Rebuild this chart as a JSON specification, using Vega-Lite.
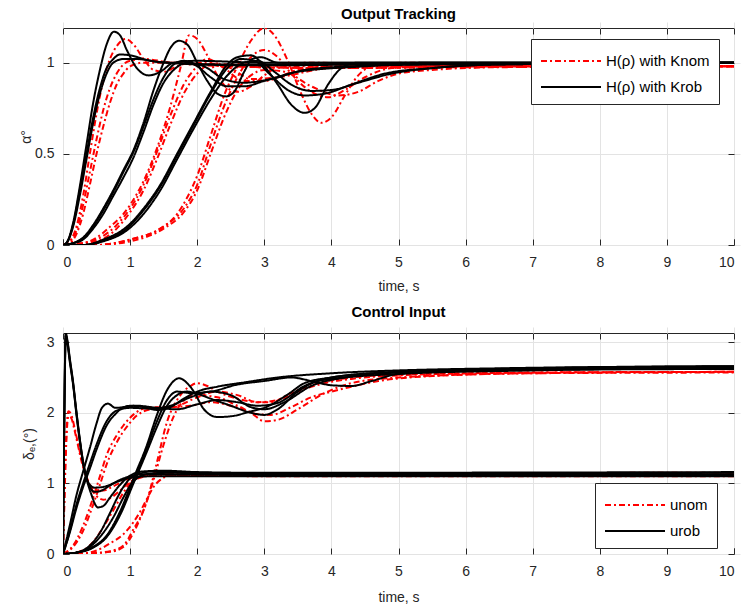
{
"$schema": "https://vega.github.io/schema/vega-lite/v6.json",
"background": "white",
"padding": {"left": 19, "top": 6, "right": 12, "bottom": 4},
"spacing": 10,
"config": {
 "font": "Liberation Sans, Arial, sans-serif",
 "view": {"stroke": "#262626", "strokeWidth": 1},
 "axis": {"domain": false, "grid": true, "gridColor": "#e3e3e3", "gridWidth": 1, "tickColor": "#262626", "tickSize": 6, "offset": -6, "tickWidth": 1, "labelColor": "#262626", "labelFontSize": 14, "titleColor": "#262626", "titleFontSize": 14, "titleFontWeight": "normal"},
 "axisX": {"labelPadding": 10},
 "axisY": {"labelPadding": 9},
 "title": {"fontSize": 15, "fontWeight": "bold", "color": "#000000", "frame": "group", "offset": 6},
 "legend": {"title": null, "symbolType": "M-1,0H4", "symbolSize": 576, "symbolStrokeWidth": 2, "labelFontSize": 15, "labelColor": "#000000", "labelOffset": 40, "strokeColor": "#262626", "fillColor": "white", "padding": 9, "rowPadding": 5, "orient": "none"}
},
"datasets": {
"top": [
{"c":"r1","k":"nom","t":0,"v":0},{"c":"r1","k":"nom","t":0.1,"v":0.02},{"c":"r1","k":"nom","t":0.2,"v":0.1},{"c":"r1","k":"nom","t":0.3,"v":0.27},{"c":"r1","k":"nom","t":0.4,"v":0.5},{"c":"r1","k":"nom","t":0.5,"v":0.72},{"c":"r1","k":"nom","t":0.6,"v":0.9},{"c":"r1","k":"nom","t":0.7,"v":1.02},{"c":"r1","k":"nom","t":0.8,"v":1.09},{"c":"r1","k":"nom","t":0.93,"v":1.13},{"c":"r1","k":"nom","t":1.05,"v":1.1},{"c":"r1","k":"nom","t":1.2,"v":1.02},{"c":"r1","k":"nom","t":1.35,"v":0.96},{"c":"r1","k":"nom","t":1.5,"v":0.95},{"c":"r1","k":"nom","t":1.7,"v":0.98},{"c":"r1","k":"nom","t":1.9,"v":1.0},{"c":"r1","k":"nom","t":2.5,"v":0.99},{"c":"r1","k":"nom","t":4,"v":0.98},{"c":"r1","k":"nom","t":10,"v":0.98},
{"c":"r2","k":"nom","t":0,"v":0},{"c":"r2","k":"nom","t":0.1,"v":0.02},{"c":"r2","k":"nom","t":0.2,"v":0.08},{"c":"r2","k":"nom","t":0.3,"v":0.22},{"c":"r2","k":"nom","t":0.4,"v":0.4},{"c":"r2","k":"nom","t":0.5,"v":0.58},{"c":"r2","k":"nom","t":0.6,"v":0.74},{"c":"r2","k":"nom","t":0.7,"v":0.86},{"c":"r2","k":"nom","t":0.8,"v":0.94},{"c":"r2","k":"nom","t":0.9,"v":0.99},{"c":"r2","k":"nom","t":1.0,"v":1.01},{"c":"r2","k":"nom","t":1.2,"v":1.02},{"c":"r2","k":"nom","t":1.6,"v":1.0},{"c":"r2","k":"nom","t":2.5,"v":0.98},{"c":"r2","k":"nom","t":4,"v":0.97},{"c":"r2","k":"nom","t":6,"v":0.98},{"c":"r2","k":"nom","t":10,"v":0.98},
{"c":"r3","k":"nom","t":0,"v":0},{"c":"r3","k":"nom","t":0.1,"v":0.01},{"c":"r3","k":"nom","t":0.2,"v":0.06},{"c":"r3","k":"nom","t":0.3,"v":0.17},{"c":"r3","k":"nom","t":0.4,"v":0.33},{"c":"r3","k":"nom","t":0.5,"v":0.5},{"c":"r3","k":"nom","t":0.6,"v":0.65},{"c":"r3","k":"nom","t":0.7,"v":0.78},{"c":"r3","k":"nom","t":0.8,"v":0.88},{"c":"r3","k":"nom","t":0.9,"v":0.94},{"c":"r3","k":"nom","t":1.0,"v":0.98},{"c":"r3","k":"nom","t":1.2,"v":1.0},{"c":"r3","k":"nom","t":1.6,"v":1.0},{"c":"r3","k":"nom","t":2.5,"v":0.98},{"c":"r3","k":"nom","t":4,"v":0.97},{"c":"r3","k":"nom","t":6,"v":0.975},{"c":"r3","k":"nom","t":10,"v":0.98},
{"c":"rm1","k":"nom","t":0,"v":0},{"c":"rm1","k":"nom","t":0.3,"v":0.01},{"c":"rm1","k":"nom","t":0.5,"v":0.04},{"c":"rm1","k":"nom","t":0.7,"v":0.1},{"c":"rm1","k":"nom","t":0.9,"v":0.17},{"c":"rm1","k":"nom","t":1.0,"v":0.22},{"c":"rm1","k":"nom","t":1.2,"v":0.35},{"c":"rm1","k":"nom","t":1.4,"v":0.53},{"c":"rm1","k":"nom","t":1.6,"v":0.76},{"c":"rm1","k":"nom","t":1.75,"v":0.97},{"c":"rm1","k":"nom","t":1.88,"v":1.15},{"c":"rm1","k":"nom","t":2.0,"v":1.13},{"c":"rm1","k":"nom","t":2.15,"v":1.04},{"c":"rm1","k":"nom","t":2.3,"v":0.93},{"c":"rm1","k":"nom","t":2.45,"v":0.86},{"c":"rm1","k":"nom","t":2.6,"v":0.84},{"c":"rm1","k":"nom","t":2.8,"v":0.87},{"c":"rm1","k":"nom","t":3.0,"v":0.93},{"c":"rm1","k":"nom","t":3.3,"v":0.99},{"c":"rm1","k":"nom","t":3.7,"v":1.0},{"c":"rm1","k":"nom","t":5,"v":0.98},{"c":"rm1","k":"nom","t":10,"v":0.98},
{"c":"rm2","k":"nom","t":0,"v":0},{"c":"rm2","k":"nom","t":0.3,"v":0.01},{"c":"rm2","k":"nom","t":0.5,"v":0.03},{"c":"rm2","k":"nom","t":0.8,"v":0.11},{"c":"rm2","k":"nom","t":1.0,"v":0.2},{"c":"rm2","k":"nom","t":1.2,"v":0.33},{"c":"rm2","k":"nom","t":1.4,"v":0.51},{"c":"rm2","k":"nom","t":1.6,"v":0.71},{"c":"rm2","k":"nom","t":1.8,"v":0.88},{"c":"rm2","k":"nom","t":2.0,"v":0.98},{"c":"rm2","k":"nom","t":2.15,"v":1.02},{"c":"rm2","k":"nom","t":2.4,"v":0.97},{"c":"rm2","k":"nom","t":2.7,"v":0.9},{"c":"rm2","k":"nom","t":3.0,"v":0.9},{"c":"rm2","k":"nom","t":3.5,"v":0.96},{"c":"rm2","k":"nom","t":4,"v":0.98},{"c":"rm2","k":"nom","t":10,"v":0.98},
{"c":"rm3","k":"nom","t":0,"v":0},{"c":"rm3","k":"nom","t":0.3,"v":0.01},{"c":"rm3","k":"nom","t":0.5,"v":0.02},{"c":"rm3","k":"nom","t":0.8,"v":0.09},{"c":"rm3","k":"nom","t":1.0,"v":0.18},{"c":"rm3","k":"nom","t":1.2,"v":0.3},{"c":"rm3","k":"nom","t":1.4,"v":0.47},{"c":"rm3","k":"nom","t":1.6,"v":0.66},{"c":"rm3","k":"nom","t":1.8,"v":0.83},{"c":"rm3","k":"nom","t":2.0,"v":0.94},{"c":"rm3","k":"nom","t":2.2,"v":0.99},{"c":"rm3","k":"nom","t":2.5,"v":0.97},{"c":"rm3","k":"nom","t":2.8,"v":0.91},{"c":"rm3","k":"nom","t":3.2,"v":0.92},{"c":"rm3","k":"nom","t":4,"v":0.97},{"c":"rm3","k":"nom","t":10,"v":0.98},
{"c":"rs1","k":"nom","t":0,"v":0},{"c":"rs1","k":"nom","t":0.5,"v":0},{"c":"rs1","k":"nom","t":1.0,"v":0.03},{"c":"rs1","k":"nom","t":1.4,"v":0.08},{"c":"rs1","k":"nom","t":1.7,"v":0.17},{"c":"rs1","k":"nom","t":1.85,"v":0.26},{"c":"rs1","k":"nom","t":2.0,"v":0.38},{"c":"rs1","k":"nom","t":2.2,"v":0.6},{"c":"rs1","k":"nom","t":2.4,"v":0.82},{"c":"rs1","k":"nom","t":2.6,"v":0.98},{"c":"rs1","k":"nom","t":2.8,"v":1.12},{"c":"rs1","k":"nom","t":3.0,"v":1.19},{"c":"rs1","k":"nom","t":3.15,"v":1.15},{"c":"rs1","k":"nom","t":3.35,"v":1.01},{"c":"rs1","k":"nom","t":3.55,"v":0.83},{"c":"rs1","k":"nom","t":3.72,"v":0.71},{"c":"rs1","k":"nom","t":3.85,"v":0.67},{"c":"rs1","k":"nom","t":4.0,"v":0.7},{"c":"rs1","k":"nom","t":4.2,"v":0.82},{"c":"rs1","k":"nom","t":4.4,"v":0.93},{"c":"rs1","k":"nom","t":4.7,"v":0.99},{"c":"rs1","k":"nom","t":5.2,"v":1.0},{"c":"rs1","k":"nom","t":6,"v":0.98},{"c":"rs1","k":"nom","t":10,"v":0.98},
{"c":"rs2","k":"nom","t":0,"v":0},{"c":"rs2","k":"nom","t":0.5,"v":0},{"c":"rs2","k":"nom","t":1.0,"v":0.03},{"c":"rs2","k":"nom","t":1.5,"v":0.1},{"c":"rs2","k":"nom","t":1.8,"v":0.2},{"c":"rs2","k":"nom","t":2.0,"v":0.33},{"c":"rs2","k":"nom","t":2.2,"v":0.55},{"c":"rs2","k":"nom","t":2.4,"v":0.76},{"c":"rs2","k":"nom","t":2.6,"v":0.92},{"c":"rs2","k":"nom","t":2.8,"v":1.03},{"c":"rs2","k":"nom","t":3.0,"v":1.07},{"c":"rs2","k":"nom","t":3.2,"v":1.03},{"c":"rs2","k":"nom","t":3.4,"v":0.94},{"c":"rs2","k":"nom","t":3.7,"v":0.84},{"c":"rs2","k":"nom","t":3.95,"v":0.81},{"c":"rs2","k":"nom","t":4.2,"v":0.85},{"c":"rs2","k":"nom","t":4.5,"v":0.92},{"c":"rs2","k":"nom","t":4.9,"v":0.97},{"c":"rs2","k":"nom","t":5.5,"v":0.98},{"c":"rs2","k":"nom","t":10,"v":0.98},
{"c":"rs3","k":"nom","t":0,"v":0},{"c":"rs3","k":"nom","t":0.5,"v":0},{"c":"rs3","k":"nom","t":1.0,"v":0.02},{"c":"rs3","k":"nom","t":1.5,"v":0.09},{"c":"rs3","k":"nom","t":1.8,"v":0.18},{"c":"rs3","k":"nom","t":2.0,"v":0.3},{"c":"rs3","k":"nom","t":2.2,"v":0.5},{"c":"rs3","k":"nom","t":2.4,"v":0.7},{"c":"rs3","k":"nom","t":2.6,"v":0.85},{"c":"rs3","k":"nom","t":2.8,"v":0.93},{"c":"rs3","k":"nom","t":3.0,"v":0.96},{"c":"rs3","k":"nom","t":3.3,"v":0.95},{"c":"rs3","k":"nom","t":3.7,"v":0.87},{"c":"rs3","k":"nom","t":4.1,"v":0.82},{"c":"rs3","k":"nom","t":4.4,"v":0.84},{"c":"rs3","k":"nom","t":4.7,"v":0.9},{"c":"rs3","k":"nom","t":5.0,"v":0.94},{"c":"rs3","k":"nom","t":5.5,"v":0.96},{"c":"rs3","k":"nom","t":6.5,"v":0.975},{"c":"rs3","k":"nom","t":10,"v":0.98},
{"c":"b1","k":"rob","t":0,"v":0},{"c":"b1","k":"rob","t":0.05,"v":0.01},{"c":"b1","k":"rob","t":0.15,"v":0.12},{"c":"b1","k":"rob","t":0.25,"v":0.32},{"c":"b1","k":"rob","t":0.35,"v":0.55},{"c":"b1","k":"rob","t":0.45,"v":0.78},{"c":"b1","k":"rob","t":0.55,"v":0.96},{"c":"b1","k":"rob","t":0.65,"v":1.1},{"c":"b1","k":"rob","t":0.76,"v":1.17},{"c":"b1","k":"rob","t":0.85,"v":1.15},{"c":"b1","k":"rob","t":0.95,"v":1.07},{"c":"b1","k":"rob","t":1.1,"v":0.97},{"c":"b1","k":"rob","t":1.28,"v":0.93},{"c":"b1","k":"rob","t":1.45,"v":0.95},{"c":"b1","k":"rob","t":1.65,"v":1.0},{"c":"b1","k":"rob","t":2.0,"v":1.01},{"c":"b1","k":"rob","t":3,"v":1.0},{"c":"b1","k":"rob","t":10,"v":1.0},
{"c":"b2","k":"rob","t":0,"v":0},{"c":"b2","k":"rob","t":0.05,"v":0.01},{"c":"b2","k":"rob","t":0.15,"v":0.11},{"c":"b2","k":"rob","t":0.25,"v":0.3},{"c":"b2","k":"rob","t":0.35,"v":0.5},{"c":"b2","k":"rob","t":0.45,"v":0.7},{"c":"b2","k":"rob","t":0.55,"v":0.86},{"c":"b2","k":"rob","t":0.65,"v":0.97},{"c":"b2","k":"rob","t":0.75,"v":1.02},{"c":"b2","k":"rob","t":0.85,"v":1.045},{"c":"b2","k":"rob","t":1.0,"v":1.04},{"c":"b2","k":"rob","t":1.3,"v":1.01},{"c":"b2","k":"rob","t":1.6,"v":1.0},{"c":"b2","k":"rob","t":2.0,"v":0.99},{"c":"b2","k":"rob","t":3,"v":0.985},{"c":"b2","k":"rob","t":4.5,"v":0.99},{"c":"b2","k":"rob","t":10,"v":1.0},
{"c":"b3","k":"rob","t":0,"v":0},{"c":"b3","k":"rob","t":0.05,"v":0.01},{"c":"b3","k":"rob","t":0.15,"v":0.1},{"c":"b3","k":"rob","t":0.25,"v":0.27},{"c":"b3","k":"rob","t":0.35,"v":0.47},{"c":"b3","k":"rob","t":0.45,"v":0.67},{"c":"b3","k":"rob","t":0.55,"v":0.83},{"c":"b3","k":"rob","t":0.65,"v":0.94},{"c":"b3","k":"rob","t":0.75,"v":1.0},{"c":"b3","k":"rob","t":0.9,"v":1.02},{"c":"b3","k":"rob","t":1.1,"v":1.02},{"c":"b3","k":"rob","t":1.5,"v":1.0},{"c":"b3","k":"rob","t":2.5,"v":0.99},{"c":"b3","k":"rob","t":10,"v":1.0},
{"c":"bm1","k":"rob","t":0,"v":0},{"c":"bm1","k":"rob","t":0.15,"v":0.01},{"c":"bm1","k":"rob","t":0.3,"v":0.04},{"c":"bm1","k":"rob","t":0.45,"v":0.11},{"c":"bm1","k":"rob","t":0.6,"v":0.2},{"c":"bm1","k":"rob","t":0.75,"v":0.3},{"c":"bm1","k":"rob","t":0.9,"v":0.41},{"c":"bm1","k":"rob","t":1.05,"v":0.52},{"c":"bm1","k":"rob","t":1.2,"v":0.67},{"c":"bm1","k":"rob","t":1.35,"v":0.85},{"c":"bm1","k":"rob","t":1.5,"v":1.0},{"c":"bm1","k":"rob","t":1.6,"v":1.08},{"c":"bm1","k":"rob","t":1.73,"v":1.12},{"c":"bm1","k":"rob","t":1.85,"v":1.1},{"c":"bm1","k":"rob","t":2.0,"v":1.0},{"c":"bm1","k":"rob","t":2.15,"v":0.9},{"c":"bm1","k":"rob","t":2.3,"v":0.83},{"c":"bm1","k":"rob","t":2.43,"v":0.815},{"c":"bm1","k":"rob","t":2.55,"v":0.84},{"c":"bm1","k":"rob","t":2.7,"v":0.95},{"c":"bm1","k":"rob","t":2.82,"v":1.02},{"c":"bm1","k":"rob","t":2.95,"v":1.03},{"c":"bm1","k":"rob","t":3.2,"v":1.0},{"c":"bm1","k":"rob","t":4,"v":1.0},{"c":"bm1","k":"rob","t":10,"v":1.0},
{"c":"bm2","k":"rob","t":0,"v":0},{"c":"bm2","k":"rob","t":0.15,"v":0.01},{"c":"bm2","k":"rob","t":0.3,"v":0.04},{"c":"bm2","k":"rob","t":0.45,"v":0.1},{"c":"bm2","k":"rob","t":0.6,"v":0.19},{"c":"bm2","k":"rob","t":0.75,"v":0.29},{"c":"bm2","k":"rob","t":0.9,"v":0.4},{"c":"bm2","k":"rob","t":1.05,"v":0.51},{"c":"bm2","k":"rob","t":1.2,"v":0.65},{"c":"bm2","k":"rob","t":1.35,"v":0.8},{"c":"bm2","k":"rob","t":1.5,"v":0.92},{"c":"bm2","k":"rob","t":1.65,"v":0.99},{"c":"bm2","k":"rob","t":1.8,"v":1.01},{"c":"bm2","k":"rob","t":2.0,"v":0.98},{"c":"bm2","k":"rob","t":2.2,"v":0.92},{"c":"bm2","k":"rob","t":2.45,"v":0.87},{"c":"bm2","k":"rob","t":2.7,"v":0.87},{"c":"bm2","k":"rob","t":3.0,"v":0.9},{"c":"bm2","k":"rob","t":3.5,"v":0.95},{"c":"bm2","k":"rob","t":4.5,"v":0.98},{"c":"bm2","k":"rob","t":5.5,"v":1.0},{"c":"bm2","k":"rob","t":10,"v":1.0},
{"c":"bm3","k":"rob","t":0,"v":0},{"c":"bm3","k":"rob","t":0.15,"v":0.01},{"c":"bm3","k":"rob","t":0.3,"v":0.03},{"c":"bm3","k":"rob","t":0.45,"v":0.09},{"c":"bm3","k":"rob","t":0.6,"v":0.17},{"c":"bm3","k":"rob","t":0.75,"v":0.27},{"c":"bm3","k":"rob","t":0.9,"v":0.37},{"c":"bm3","k":"rob","t":1.05,"v":0.48},{"c":"bm3","k":"rob","t":1.2,"v":0.62},{"c":"bm3","k":"rob","t":1.35,"v":0.77},{"c":"bm3","k":"rob","t":1.5,"v":0.89},{"c":"bm3","k":"rob","t":1.65,"v":0.96},{"c":"bm3","k":"rob","t":1.85,"v":1.0},{"c":"bm3","k":"rob","t":2.1,"v":0.98},{"c":"bm3","k":"rob","t":2.4,"v":0.91},{"c":"bm3","k":"rob","t":2.7,"v":0.89},{"c":"bm3","k":"rob","t":3.1,"v":0.91},{"c":"bm3","k":"rob","t":3.6,"v":0.96},{"c":"bm3","k":"rob","t":4.3,"v":0.98},{"c":"bm3","k":"rob","t":5.5,"v":0.99},{"c":"bm3","k":"rob","t":10,"v":1.0},
{"c":"bs1","k":"rob","t":0,"v":0},{"c":"bs1","k":"rob","t":0.3,"v":0},{"c":"bs1","k":"rob","t":0.6,"v":0.03},{"c":"bs1","k":"rob","t":0.95,"v":0.1},{"c":"bs1","k":"rob","t":1.2,"v":0.2},{"c":"bs1","k":"rob","t":1.45,"v":0.33},{"c":"bs1","k":"rob","t":1.7,"v":0.5},{"c":"bs1","k":"rob","t":1.95,"v":0.67},{"c":"bs1","k":"rob","t":2.2,"v":0.84},{"c":"bs1","k":"rob","t":2.45,"v":0.99},{"c":"bs1","k":"rob","t":2.6,"v":1.03},{"c":"bs1","k":"rob","t":2.8,"v":1.04},{"c":"bs1","k":"rob","t":3.0,"v":0.98},{"c":"bs1","k":"rob","t":3.2,"v":0.88},{"c":"bs1","k":"rob","t":3.4,"v":0.77},{"c":"bs1","k":"rob","t":3.6,"v":0.725},{"c":"bs1","k":"rob","t":3.75,"v":0.75},{"c":"bs1","k":"rob","t":3.95,"v":0.88},{"c":"bs1","k":"rob","t":4.15,"v":0.97},{"c":"bs1","k":"rob","t":4.4,"v":1.0},{"c":"bs1","k":"rob","t":10,"v":1.0},
{"c":"bs2","k":"rob","t":0,"v":0},{"c":"bs2","k":"rob","t":0.3,"v":0},{"c":"bs2","k":"rob","t":0.6,"v":0.025},{"c":"bs2","k":"rob","t":0.95,"v":0.09},{"c":"bs2","k":"rob","t":1.2,"v":0.19},{"c":"bs2","k":"rob","t":1.45,"v":0.32},{"c":"bs2","k":"rob","t":1.7,"v":0.49},{"c":"bs2","k":"rob","t":1.95,"v":0.66},{"c":"bs2","k":"rob","t":2.2,"v":0.83},{"c":"bs2","k":"rob","t":2.45,"v":0.97},{"c":"bs2","k":"rob","t":2.65,"v":1.02},{"c":"bs2","k":"rob","t":2.85,"v":1.01},{"c":"bs2","k":"rob","t":3.1,"v":0.93},{"c":"bs2","k":"rob","t":3.35,"v":0.85},{"c":"bs2","k":"rob","t":3.6,"v":0.82},{"c":"bs2","k":"rob","t":3.9,"v":0.83},{"c":"bs2","k":"rob","t":4.3,"v":0.88},{"c":"bs2","k":"rob","t":4.8,"v":0.94},{"c":"bs2","k":"rob","t":5.5,"v":0.97},{"c":"bs2","k":"rob","t":6.5,"v":0.99},{"c":"bs2","k":"rob","t":10,"v":1.0},
{"c":"bs3","k":"rob","t":0,"v":0},{"c":"bs3","k":"rob","t":0.3,"v":0},{"c":"bs3","k":"rob","t":0.6,"v":0.02},{"c":"bs3","k":"rob","t":0.95,"v":0.08},{"c":"bs3","k":"rob","t":1.2,"v":0.17},{"c":"bs3","k":"rob","t":1.45,"v":0.3},{"c":"bs3","k":"rob","t":1.7,"v":0.47},{"c":"bs3","k":"rob","t":1.95,"v":0.64},{"c":"bs3","k":"rob","t":2.2,"v":0.8},{"c":"bs3","k":"rob","t":2.45,"v":0.93},{"c":"bs3","k":"rob","t":2.7,"v":1.0},{"c":"bs3","k":"rob","t":2.9,"v":1.01},{"c":"bs3","k":"rob","t":3.15,"v":0.95},{"c":"bs3","k":"rob","t":3.4,"v":0.88},{"c":"bs3","k":"rob","t":3.7,"v":0.845},{"c":"bs3","k":"rob","t":4.0,"v":0.85},{"c":"bs3","k":"rob","t":4.4,"v":0.89},{"c":"bs3","k":"rob","t":4.9,"v":0.94},{"c":"bs3","k":"rob","t":5.5,"v":0.97},{"c":"bs3","k":"rob","t":6.5,"v":0.99},{"c":"bs3","k":"rob","t":10,"v":1.0}
],
"bot": [
{"c":"ra1","k":"nom","t":0,"v":0},{"c":"ra1","k":"nom","t":0.02,"v":0.8},{"c":"ra1","k":"nom","t":0.05,"v":1.7},{"c":"ra1","k":"nom","t":0.08,"v":2.02},{"c":"ra1","k":"nom","t":0.12,"v":1.98},{"c":"ra1","k":"nom","t":0.17,"v":1.8},{"c":"ra1","k":"nom","t":0.22,"v":1.58},{"c":"ra1","k":"nom","t":0.28,"v":1.33},{"c":"ra1","k":"nom","t":0.35,"v":1.1},{"c":"ra1","k":"nom","t":0.42,"v":0.93},{"c":"ra1","k":"nom","t":0.5,"v":0.82},{"c":"ra1","k":"nom","t":0.6,"v":0.77},{"c":"ra1","k":"nom","t":0.7,"v":0.79},{"c":"ra1","k":"nom","t":0.85,"v":0.9},{"c":"ra1","k":"nom","t":1.0,"v":1.02},{"c":"ra1","k":"nom","t":1.2,"v":1.1},{"c":"ra1","k":"nom","t":1.5,"v":1.13},{"c":"ra1","k":"nom","t":2,"v":1.12},{"c":"ra1","k":"nom","t":10,"v":1.12},
{"c":"ra2","k":"nom","t":0,"v":0},{"c":"ra2","k":"nom","t":0.02,"v":0.7},{"c":"ra2","k":"nom","t":0.05,"v":1.6},{"c":"ra2","k":"nom","t":0.08,"v":1.95},{"c":"ra2","k":"nom","t":0.12,"v":1.93},{"c":"ra2","k":"nom","t":0.17,"v":1.76},{"c":"ra2","k":"nom","t":0.22,"v":1.55},{"c":"ra2","k":"nom","t":0.28,"v":1.3},{"c":"ra2","k":"nom","t":0.35,"v":1.08},{"c":"ra2","k":"nom","t":0.42,"v":0.95},{"c":"ra2","k":"nom","t":0.5,"v":0.9},{"c":"ra2","k":"nom","t":0.6,"v":0.9},{"c":"ra2","k":"nom","t":0.75,"v":0.96},{"c":"ra2","k":"nom","t":0.9,"v":1.03},{"c":"ra2","k":"nom","t":1.1,"v":1.1},{"c":"ra2","k":"nom","t":1.4,"v":1.13},{"c":"ra2","k":"nom","t":2,"v":1.14},{"c":"ra2","k":"nom","t":10,"v":1.15},
{"c":"rb1","k":"nom","t":0,"v":0},{"c":"rb1","k":"nom","t":0.3,"v":0.01},{"c":"rb1","k":"nom","t":0.5,"v":0.05},{"c":"rb1","k":"nom","t":0.7,"v":0.15},{"c":"rb1","k":"nom","t":0.9,"v":0.28},{"c":"rb1","k":"nom","t":1.05,"v":0.45},{"c":"rb1","k":"nom","t":1.15,"v":0.6},{"c":"rb1","k":"nom","t":1.25,"v":0.78},{"c":"rb1","k":"nom","t":1.35,"v":0.95},{"c":"rb1","k":"nom","t":1.45,"v":1.05},{"c":"rb1","k":"nom","t":1.6,"v":1.11},{"c":"rb1","k":"nom","t":1.9,"v":1.12},{"c":"rb1","k":"nom","t":3,"v":1.1},{"c":"rb1","k":"nom","t":10,"v":1.1},
{"c":"rb2","k":"nom","t":0,"v":0},{"c":"rb2","k":"nom","t":0.2,"v":0.02},{"c":"rb2","k":"nom","t":0.45,"v":0.17},{"c":"rb2","k":"nom","t":0.6,"v":0.38},{"c":"rb2","k":"nom","t":0.75,"v":0.62},{"c":"rb2","k":"nom","t":0.9,"v":0.87},{"c":"rb2","k":"nom","t":1.0,"v":1.0},{"c":"rb2","k":"nom","t":1.15,"v":1.08},{"c":"rb2","k":"nom","t":1.4,"v":1.12},{"c":"rb2","k":"nom","t":2,"v":1.12},{"c":"rb2","k":"nom","t":10,"v":1.13},
{"c":"rc1","k":"nom","t":0,"v":0},{"c":"rc1","k":"nom","t":0.15,"v":0.12},{"c":"rc1","k":"nom","t":0.3,"v":0.4},{"c":"rc1","k":"nom","t":0.45,"v":0.8},{"c":"rc1","k":"nom","t":0.55,"v":1.1},{"c":"rc1","k":"nom","t":0.65,"v":1.4},{"c":"rc1","k":"nom","t":0.8,"v":1.68},{"c":"rc1","k":"nom","t":0.9,"v":1.82},{"c":"rc1","k":"nom","t":1.0,"v":1.93},{"c":"rc1","k":"nom","t":1.15,"v":2.04},{"c":"rc1","k":"nom","t":1.3,"v":2.08},{"c":"rc1","k":"nom","t":1.5,"v":2.08},{"c":"rc1","k":"nom","t":1.7,"v":2.1},{"c":"rc1","k":"nom","t":2.0,"v":2.22},{"c":"rc1","k":"nom","t":2.3,"v":2.3},{"c":"rc1","k":"nom","t":2.6,"v":2.25},{"c":"rc1","k":"nom","t":2.9,"v":2.15},{"c":"rc1","k":"nom","t":3.1,"v":2.15},{"c":"rc1","k":"nom","t":3.4,"v":2.28},{"c":"rc1","k":"nom","t":3.8,"v":2.42},{"c":"rc1","k":"nom","t":4.3,"v":2.5},{"c":"rc1","k":"nom","t":5,"v":2.54},{"c":"rc1","k":"nom","t":7,"v":2.57},{"c":"rc1","k":"nom","t":10,"v":2.58},
{"c":"rc2","k":"nom","t":0,"v":0},{"c":"rc2","k":"nom","t":0.15,"v":0.1},{"c":"rc2","k":"nom","t":0.3,"v":0.33},{"c":"rc2","k":"nom","t":0.45,"v":0.7},{"c":"rc2","k":"nom","t":0.55,"v":0.98},{"c":"rc2","k":"nom","t":0.65,"v":1.27},{"c":"rc2","k":"nom","t":0.8,"v":1.58},{"c":"rc2","k":"nom","t":0.95,"v":1.8},{"c":"rc2","k":"nom","t":1.1,"v":1.96},{"c":"rc2","k":"nom","t":1.3,"v":2.05},{"c":"rc2","k":"nom","t":1.6,"v":2.08},{"c":"rc2","k":"nom","t":1.9,"v":2.1},{"c":"rc2","k":"nom","t":2.2,"v":2.15},{"c":"rc2","k":"nom","t":2.5,"v":2.1},{"c":"rc2","k":"nom","t":2.8,"v":2.0},{"c":"rc2","k":"nom","t":3.0,"v":1.88},{"c":"rc2","k":"nom","t":3.2,"v":1.9},{"c":"rc2","k":"nom","t":3.5,"v":2.05},{"c":"rc2","k":"nom","t":3.9,"v":2.28},{"c":"rc2","k":"nom","t":4.3,"v":2.42},{"c":"rc2","k":"nom","t":5,"v":2.5},{"c":"rc2","k":"nom","t":7,"v":2.56},{"c":"rc2","k":"nom","t":10,"v":2.58},
{"c":"rd1","k":"nom","t":0,"v":0},{"c":"rd1","k":"nom","t":0.4,"v":0.01},{"c":"rd1","k":"nom","t":0.7,"v":0.03},{"c":"rd1","k":"nom","t":0.9,"v":0.1},{"c":"rd1","k":"nom","t":1.05,"v":0.3},{"c":"rd1","k":"nom","t":1.15,"v":0.5},{"c":"rd1","k":"nom","t":1.25,"v":0.75},{"c":"rd1","k":"nom","t":1.4,"v":1.3},{"c":"rd1","k":"nom","t":1.55,"v":1.87},{"c":"rd1","k":"nom","t":1.75,"v":2.25},{"c":"rd1","k":"nom","t":1.9,"v":2.38},{"c":"rd1","k":"nom","t":2.0,"v":2.42},{"c":"rd1","k":"nom","t":2.15,"v":2.38},{"c":"rd1","k":"nom","t":2.3,"v":2.3},{"c":"rd1","k":"nom","t":2.6,"v":2.2},{"c":"rd1","k":"nom","t":2.9,"v":2.15},{"c":"rd1","k":"nom","t":3.2,"v":2.18},{"c":"rd1","k":"nom","t":3.5,"v":2.3},{"c":"rd1","k":"nom","t":3.9,"v":2.42},{"c":"rd1","k":"nom","t":4.3,"v":2.48},{"c":"rd1","k":"nom","t":5,"v":2.53},{"c":"rd1","k":"nom","t":7,"v":2.57},{"c":"rd1","k":"nom","t":10,"v":2.58},
{"c":"rd2","k":"nom","t":0,"v":0},{"c":"rd2","k":"nom","t":0.4,"v":0.01},{"c":"rd2","k":"nom","t":0.7,"v":0.04},{"c":"rd2","k":"nom","t":0.9,"v":0.12},{"c":"rd2","k":"nom","t":1.05,"v":0.35},{"c":"rd2","k":"nom","t":1.2,"v":0.62},{"c":"rd2","k":"nom","t":1.35,"v":1.05},{"c":"rd2","k":"nom","t":1.5,"v":1.55},{"c":"rd2","k":"nom","t":1.65,"v":1.95},{"c":"rd2","k":"nom","t":1.8,"v":2.17},{"c":"rd2","k":"nom","t":2.0,"v":2.25},{"c":"rd2","k":"nom","t":2.3,"v":2.22},{"c":"rd2","k":"nom","t":2.6,"v":2.1},{"c":"rd2","k":"nom","t":2.9,"v":1.98},{"c":"rd2","k":"nom","t":3.1,"v":1.97},{"c":"rd2","k":"nom","t":3.4,"v":2.08},{"c":"rd2","k":"nom","t":3.7,"v":2.22},{"c":"rd2","k":"nom","t":4.0,"v":2.3},{"c":"rd2","k":"nom","t":4.3,"v":2.37},{"c":"rd2","k":"nom","t":4.7,"v":2.45},{"c":"rd2","k":"nom","t":5.5,"v":2.52},{"c":"rd2","k":"nom","t":7,"v":2.56},{"c":"rd2","k":"nom","t":10,"v":2.57},
{"c":"a1","k":"rob","t":0,"v":0},{"c":"a1","k":"rob","t":0.02,"v":2.0},{"c":"a1","k":"rob","t":0.04,"v":3.13},{"c":"a1","k":"rob","t":0.07,"v":3.0},{"c":"a1","k":"rob","t":0.1,"v":2.78},{"c":"a1","k":"rob","t":0.15,"v":2.44},{"c":"a1","k":"rob","t":0.2,"v":2.02},{"c":"a1","k":"rob","t":0.25,"v":1.63},{"c":"a1","k":"rob","t":0.3,"v":1.3},{"c":"a1","k":"rob","t":0.35,"v":1.07},{"c":"a1","k":"rob","t":0.42,"v":0.85},{"c":"a1","k":"rob","t":0.52,"v":0.66},{"c":"a1","k":"rob","t":0.6,"v":0.68},{"c":"a1","k":"rob","t":0.7,"v":0.8},{"c":"a1","k":"rob","t":0.85,"v":0.98},{"c":"a1","k":"rob","t":1.0,"v":1.11},{"c":"a1","k":"rob","t":1.2,"v":1.17},{"c":"a1","k":"rob","t":1.5,"v":1.18},{"c":"a1","k":"rob","t":2,"v":1.16},{"c":"a1","k":"rob","t":3,"v":1.15},{"c":"a1","k":"rob","t":10,"v":1.16},
{"c":"a2","k":"rob","t":0,"v":0},{"c":"a2","k":"rob","t":0.02,"v":2.0},{"c":"a2","k":"rob","t":0.04,"v":3.1},{"c":"a2","k":"rob","t":0.07,"v":2.98},{"c":"a2","k":"rob","t":0.1,"v":2.76},{"c":"a2","k":"rob","t":0.15,"v":2.42},{"c":"a2","k":"rob","t":0.2,"v":2.0},{"c":"a2","k":"rob","t":0.25,"v":1.62},{"c":"a2","k":"rob","t":0.3,"v":1.3},{"c":"a2","k":"rob","t":0.35,"v":1.08},{"c":"a2","k":"rob","t":0.4,"v":0.95},{"c":"a2","k":"rob","t":0.47,"v":0.88},{"c":"a2","k":"rob","t":0.55,"v":0.89},{"c":"a2","k":"rob","t":0.7,"v":0.97},{"c":"a2","k":"rob","t":0.85,"v":1.05},{"c":"a2","k":"rob","t":1.0,"v":1.1},{"c":"a2","k":"rob","t":1.2,"v":1.13},{"c":"a2","k":"rob","t":1.5,"v":1.13},{"c":"a2","k":"rob","t":3,"v":1.12},{"c":"a2","k":"rob","t":10,"v":1.12},
{"c":"a3","k":"rob","t":0,"v":0},{"c":"a3","k":"rob","t":0.02,"v":1.9},{"c":"a3","k":"rob","t":0.04,"v":3.05},{"c":"a3","k":"rob","t":0.07,"v":2.95},{"c":"a3","k":"rob","t":0.1,"v":2.73},{"c":"a3","k":"rob","t":0.15,"v":2.4},{"c":"a3","k":"rob","t":0.2,"v":1.98},{"c":"a3","k":"rob","t":0.25,"v":1.6},{"c":"a3","k":"rob","t":0.3,"v":1.28},{"c":"a3","k":"rob","t":0.35,"v":1.08},{"c":"a3","k":"rob","t":0.4,"v":0.98},{"c":"a3","k":"rob","t":0.47,"v":0.94},{"c":"a3","k":"rob","t":0.6,"v":0.95},{"c":"a3","k":"rob","t":0.8,"v":1.02},{"c":"a3","k":"rob","t":1.0,"v":1.08},{"c":"a3","k":"rob","t":1.3,"v":1.1},{"c":"a3","k":"rob","t":2,"v":1.1},{"c":"a3","k":"rob","t":10,"v":1.1},
{"c":"bb1","k":"rob","t":0,"v":0},{"c":"bb1","k":"rob","t":0.2,"v":0.02},{"c":"bb1","k":"rob","t":0.4,"v":0.12},{"c":"bb1","k":"rob","t":0.55,"v":0.3},{"c":"bb1","k":"rob","t":0.7,"v":0.58},{"c":"bb1","k":"rob","t":0.8,"v":0.78},{"c":"bb1","k":"rob","t":0.9,"v":0.95},{"c":"bb1","k":"rob","t":1.0,"v":1.07},{"c":"bb1","k":"rob","t":1.15,"v":1.14},{"c":"bb1","k":"rob","t":1.35,"v":1.17},{"c":"bb1","k":"rob","t":1.7,"v":1.16},{"c":"bb1","k":"rob","t":3,"v":1.14},{"c":"bb1","k":"rob","t":10,"v":1.15},
{"c":"bb2","k":"rob","t":0,"v":0},{"c":"bb2","k":"rob","t":0.2,"v":0.02},{"c":"bb2","k":"rob","t":0.4,"v":0.1},{"c":"bb2","k":"rob","t":0.6,"v":0.3},{"c":"bb2","k":"rob","t":0.75,"v":0.52},{"c":"bb2","k":"rob","t":0.9,"v":0.8},{"c":"bb2","k":"rob","t":1.0,"v":0.97},{"c":"bb2","k":"rob","t":1.1,"v":1.07},{"c":"bb2","k":"rob","t":1.3,"v":1.14},{"c":"bb2","k":"rob","t":1.6,"v":1.15},{"c":"bb2","k":"rob","t":3,"v":1.12},{"c":"bb2","k":"rob","t":10,"v":1.13},
{"c":"bc1","k":"rob","t":0,"v":0},{"c":"bc1","k":"rob","t":0.1,"v":0.4},{"c":"bc1","k":"rob","t":0.2,"v":0.83},{"c":"bc1","k":"rob","t":0.3,"v":1.17},{"c":"bc1","k":"rob","t":0.4,"v":1.5},{"c":"bc1","k":"rob","t":0.5,"v":1.85},{"c":"bc1","k":"rob","t":0.58,"v":2.07},{"c":"bc1","k":"rob","t":0.67,"v":2.13},{"c":"bc1","k":"rob","t":0.78,"v":2.07},{"c":"bc1","k":"rob","t":0.9,"v":2.08},{"c":"bc1","k":"rob","t":1.0,"v":2.1},{"c":"bc1","k":"rob","t":1.2,"v":2.08},{"c":"bc1","k":"rob","t":1.4,"v":2.04},{"c":"bc1","k":"rob","t":1.6,"v":2.08},{"c":"bc1","k":"rob","t":1.8,"v":2.2},{"c":"bc1","k":"rob","t":2.0,"v":2.3},{"c":"bc1","k":"rob","t":2.3,"v":2.37},{"c":"bc1","k":"rob","t":2.7,"v":2.43},{"c":"bc1","k":"rob","t":3.2,"v":2.5},{"c":"bc1","k":"rob","t":4,"v":2.56},{"c":"bc1","k":"rob","t":5,"v":2.6},{"c":"bc1","k":"rob","t":6.5,"v":2.63},{"c":"bc1","k":"rob","t":10,"v":2.66},
{"c":"bc2","k":"rob","t":0,"v":0},{"c":"bc2","k":"rob","t":0.1,"v":0.3},{"c":"bc2","k":"rob","t":0.2,"v":0.65},{"c":"bc2","k":"rob","t":0.3,"v":0.95},{"c":"bc2","k":"rob","t":0.4,"v":1.21},{"c":"bc2","k":"rob","t":0.5,"v":1.48},{"c":"bc2","k":"rob","t":0.65,"v":1.82},{"c":"bc2","k":"rob","t":0.8,"v":2.0},{"c":"bc2","k":"rob","t":0.9,"v":2.08},{"c":"bc2","k":"rob","t":1.1,"v":2.1},{"c":"bc2","k":"rob","t":1.4,"v":2.07},{"c":"bc2","k":"rob","t":1.7,"v":2.05},{"c":"bc2","k":"rob","t":2.0,"v":2.12},{"c":"bc2","k":"rob","t":2.3,"v":2.18},{"c":"bc2","k":"rob","t":2.6,"v":2.15},{"c":"bc2","k":"rob","t":2.9,"v":2.1},{"c":"bc2","k":"rob","t":3.2,"v":2.14},{"c":"bc2","k":"rob","t":3.6,"v":2.38},{"c":"bc2","k":"rob","t":4.0,"v":2.5},{"c":"bc2","k":"rob","t":5,"v":2.58},{"c":"bc2","k":"rob","t":6.5,"v":2.62},{"c":"bc2","k":"rob","t":10,"v":2.64},
{"c":"bc3","k":"rob","t":0,"v":0},{"c":"bc3","k":"rob","t":0.1,"v":0.32},{"c":"bc3","k":"rob","t":0.2,"v":0.7},{"c":"bc3","k":"rob","t":0.3,"v":1.0},{"c":"bc3","k":"rob","t":0.4,"v":1.28},{"c":"bc3","k":"rob","t":0.5,"v":1.55},{"c":"bc3","k":"rob","t":0.65,"v":1.88},{"c":"bc3","k":"rob","t":0.8,"v":2.03},{"c":"bc3","k":"rob","t":1.0,"v":2.07},{"c":"bc3","k":"rob","t":1.3,"v":2.06},{"c":"bc3","k":"rob","t":1.6,"v":2.1},{"c":"bc3","k":"rob","t":1.9,"v":2.22},{"c":"bc3","k":"rob","t":2.2,"v":2.3},{"c":"bc3","k":"rob","t":2.5,"v":2.25},{"c":"bc3","k":"rob","t":2.8,"v":2.08},{"c":"bc3","k":"rob","t":3.0,"v":2.05},{"c":"bc3","k":"rob","t":3.3,"v":2.15},{"c":"bc3","k":"rob","t":3.7,"v":2.38},{"c":"bc3","k":"rob","t":4.2,"v":2.5},{"c":"bc3","k":"rob","t":5,"v":2.57},{"c":"bc3","k":"rob","t":7,"v":2.61},{"c":"bc3","k":"rob","t":10,"v":2.62},
{"c":"bd1","k":"rob","t":0,"v":0},{"c":"bd1","k":"rob","t":0.2,"v":0.02},{"c":"bd1","k":"rob","t":0.45,"v":0.1},{"c":"bd1","k":"rob","t":0.65,"v":0.26},{"c":"bd1","k":"rob","t":0.85,"v":0.6},{"c":"bd1","k":"rob","t":1.05,"v":1.07},{"c":"bd1","k":"rob","t":1.25,"v":1.54},{"c":"bd1","k":"rob","t":1.4,"v":1.97},{"c":"bd1","k":"rob","t":1.55,"v":2.32},{"c":"bd1","k":"rob","t":1.65,"v":2.45},{"c":"bd1","k":"rob","t":1.73,"v":2.49},{"c":"bd1","k":"rob","t":1.85,"v":2.42},{"c":"bd1","k":"rob","t":1.95,"v":2.3},{"c":"bd1","k":"rob","t":2.1,"v":2.05},{"c":"bd1","k":"rob","t":2.3,"v":1.94},{"c":"bd1","k":"rob","t":2.5,"v":1.95},{"c":"bd1","k":"rob","t":2.8,"v":2.02},{"c":"bd1","k":"rob","t":3.0,"v":2.07},{"c":"bd1","k":"rob","t":3.35,"v":2.26},{"c":"bd1","k":"rob","t":3.6,"v":2.42},{"c":"bd1","k":"rob","t":4,"v":2.5},{"c":"bd1","k":"rob","t":5,"v":2.58},{"c":"bd1","k":"rob","t":7,"v":2.63},{"c":"bd1","k":"rob","t":10,"v":2.66},
{"c":"bd2","k":"rob","t":0,"v":0},{"c":"bd2","k":"rob","t":0.2,"v":0.02},{"c":"bd2","k":"rob","t":0.45,"v":0.09},{"c":"bd2","k":"rob","t":0.65,"v":0.24},{"c":"bd2","k":"rob","t":0.85,"v":0.55},{"c":"bd2","k":"rob","t":1.05,"v":1.0},{"c":"bd2","k":"rob","t":1.25,"v":1.45},{"c":"bd2","k":"rob","t":1.4,"v":1.8},{"c":"bd2","k":"rob","t":1.55,"v":2.1},{"c":"bd2","k":"rob","t":1.7,"v":2.25},{"c":"bd2","k":"rob","t":1.85,"v":2.3},{"c":"bd2","k":"rob","t":2.0,"v":2.27},{"c":"bd2","k":"rob","t":2.2,"v":2.2},{"c":"bd2","k":"rob","t":2.5,"v":2.1},{"c":"bd2","k":"rob","t":2.8,"v":2.0},{"c":"bd2","k":"rob","t":3.0,"v":1.97},{"c":"bd2","k":"rob","t":3.2,"v":2.05},{"c":"bd2","k":"rob","t":3.5,"v":2.3},{"c":"bd2","k":"rob","t":3.8,"v":2.45},{"c":"bd2","k":"rob","t":4.2,"v":2.5},{"c":"bd2","k":"rob","t":5,"v":2.55},{"c":"bd2","k":"rob","t":7,"v":2.6},{"c":"bd2","k":"rob","t":10,"v":2.63},
{"c":"bd3","k":"rob","t":0,"v":0},{"c":"bd3","k":"rob","t":0.2,"v":0.02},{"c":"bd3","k":"rob","t":0.45,"v":0.1},{"c":"bd3","k":"rob","t":0.65,"v":0.25},{"c":"bd3","k":"rob","t":0.85,"v":0.58},{"c":"bd3","k":"rob","t":1.05,"v":1.03},{"c":"bd3","k":"rob","t":1.25,"v":1.5},{"c":"bd3","k":"rob","t":1.4,"v":1.88},{"c":"bd3","k":"rob","t":1.55,"v":2.18},{"c":"bd3","k":"rob","t":1.7,"v":2.3},{"c":"bd3","k":"rob","t":1.9,"v":2.28},{"c":"bd3","k":"rob","t":2.2,"v":2.3},{"c":"bd3","k":"rob","t":2.6,"v":2.4},{"c":"bd3","k":"rob","t":3.0,"v":2.45},{"c":"bd3","k":"rob","t":3.4,"v":2.5},{"c":"bd3","k":"rob","t":3.7,"v":2.45},{"c":"bd3","k":"rob","t":4.0,"v":2.39},{"c":"bd3","k":"rob","t":4.3,"v":2.38},{"c":"bd3","k":"rob","t":4.6,"v":2.45},{"c":"bd3","k":"rob","t":5,"v":2.55},{"c":"bd3","k":"rob","t":6,"v":2.6},{"c":"bd3","k":"rob","t":10,"v":2.64}
]
},
"vconcat": [
{
 "title": {"text": "Output Tracking", "offset": 6},
 "width": 671, "height": 217,
 "data": {"name": "top"},
 "layer": [
  {"mark": {"type": "line", "strokeWidth": 2, "clip": true, "interpolate": "monotone"},
   "encoding": {
    "x": {"field": "t", "type": "quantitative", "scale": {"domain": [0, 10], "nice": false}, "axis": {"title": "time, s", "values": [0,1,2,3,4,5,6,7,8,9,10], "titlePadding": 10}},
    "y": {"field": "v", "type": "quantitative", "scale": {"domain": [0, 1.19], "nice": false}, "axis": {"title": "α°", "values": [0, 0.5, 1], "format": "~g", "titlePadding": 1}},
    "color": {"field": "k", "type": "nominal", "scale": {"domain": ["nom", "rob"], "range": ["#ff0000", "#000000"]}, "legend": {"legendX": 468, "legendY": 11, "labelExpr": "datum.label == 'nom' ? 'H(ρ) with Knom' : 'H(ρ) with Krob'"}},
    "strokeDash": {"field": "k", "type": "nominal", "scale": {"domain": ["nom", "rob"], "range": [[6, 3, 2, 3], [1, 0]]}, "legend": {"legendX": 468, "legendY": 11, "labelExpr": "datum.label == 'nom' ? 'H(ρ) with Knom' : 'H(ρ) with Krob'"}},
    "detail": {"field": "c", "type": "nominal"}
   }},
  {"mark": {"type": "line", "opacity": 0},
   "encoding": {
    "x": {"field": "t", "type": "quantitative", "axis": {"orient": "top", "labels": false, "title": null, "grid": false, "values": [0,1,2,3,4,5,6,7,8,9,10]}},
    "y": {"field": "v", "type": "quantitative", "axis": {"orient": "right", "labels": false, "title": null, "grid": false, "values": [0, 0.5, 1]}},
    "detail": {"field": "c", "type": "nominal"}
   }}
 ],
 "resolve": {"axis": {"x": "independent", "y": "independent"}}
},
{
 "title": {"text": "Control Input", "offset": 13},
 "width": 671, "height": 221,
 "data": {"name": "bot"},
 "layer": [
  {"mark": {"type": "line", "strokeWidth": 2, "clip": true, "interpolate": "monotone"},
   "encoding": {
    "x": {"field": "t", "type": "quantitative", "scale": {"domain": [0, 10], "nice": false}, "axis": {"title": "time, s", "values": [0,1,2,3,4,5,6,7,8,9,10], "titlePadding": 12}},
    "y": {"field": "v", "type": "quantitative", "scale": {"domain": [0, 3.13], "nice": false}, "axis": {"title": "δₑ,(°)", "values": [0, 1, 2, 3], "titlePadding": 10}},
    "color": {"field": "k", "type": "nominal", "scale": {"domain": ["nom", "rob"], "range": ["#ff0000", "#000000"]}, "legend": {"legendX": 532, "legendY": 150, "labelExpr": "'u' + datum.label"}},
    "strokeDash": {"field": "k", "type": "nominal", "scale": {"domain": ["nom", "rob"], "range": [[6, 3, 2, 3], [1, 0]]}, "legend": {"legendX": 532, "legendY": 150, "labelExpr": "'u' + datum.label"}},
    "detail": {"field": "c", "type": "nominal"}
   }},
  {"mark": {"type": "line", "opacity": 0},
   "encoding": {
    "x": {"field": "t", "type": "quantitative", "axis": {"orient": "top", "labels": false, "title": null, "grid": false, "values": [0,1,2,3,4,5,6,7,8,9,10]}},
    "y": {"field": "v", "type": "quantitative", "axis": {"orient": "right", "labels": false, "title": null, "grid": false, "values": [0, 1, 2, 3]}},
    "detail": {"field": "c", "type": "nominal"}
   }}
 ],
 "resolve": {"axis": {"x": "independent", "y": "independent"}}
}
],
"resolve": {"scale": {"color": "independent", "strokeDash": "independent"}}
}
